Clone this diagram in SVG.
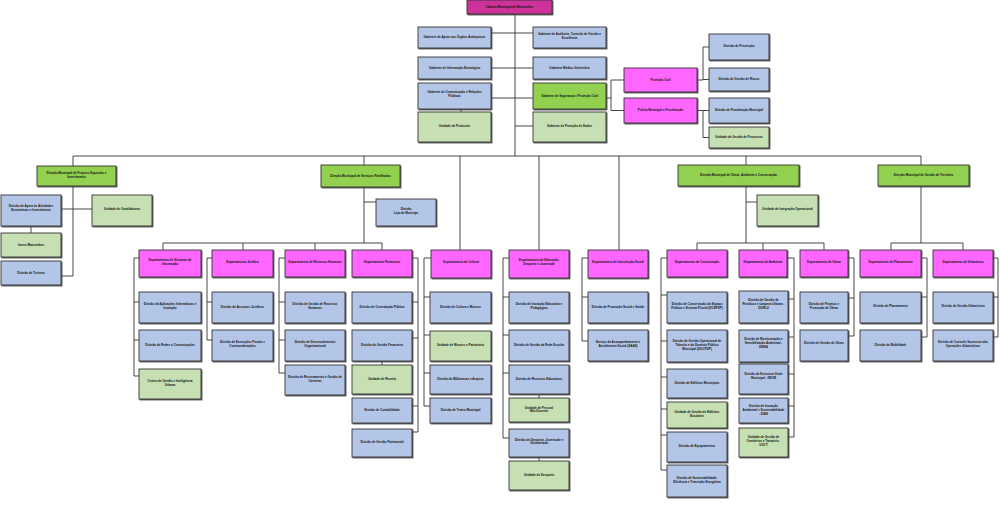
<svg xmlns="http://www.w3.org/2000/svg" width="1000" height="514" viewBox="0 0 1000 514">
<defs>
<filter id="sh" x="-10%" y="-10%" width="130%" height="140%"><feDropShadow dx="1" dy="1" stdDeviation="0.3" flood-color="#4a4a4a" flood-opacity="0.9"/></filter>
</defs>
<style>
rect{stroke:#333;stroke-width:0.9;filter:url(#sh)}
.b{fill:#b4c6e7}.g{fill:#92d050}.l{fill:#c6e0b4}.m{fill:#ff66ff}.t{fill:#cc3399}
text{font-family:"Liberation Sans",Arial,sans-serif;font-size:3px;font-weight:bold;fill:#111;text-anchor:middle;dominant-baseline:central}
#conn path{fill:none;stroke:#333;stroke-width:0.9}
</style>
<rect width="1000" height="514" style="fill:#fff;stroke:none;filter:none"/>
<g id="conn"><path d="M515 14V156M491 33H533M491 68H533M491 98H533M515 126H533M461 109V112
M606 98H611M611 80V110.5M611 80H624M611 110.5H624
M697 80H703M703 47V80M703 47H709M703 79.5H709
M697 110.5H709M703 110.5V137.5M703 137.5H709
M73 156H921
M73 156V166M73 186V276M61 276H73M61 209H92M31 226V233
M364 156V165M364 187V243M364 202H376
M163 243H382M163 243V250M243 243V250M315 243V250M382 243V250
M460 156V250M539 156V250M619 156V250
M746 156V165M746 186V243M746 202H757M697 243H824M697 243V250M763 243V250M824 243V250
M921 156V165M921 186V243M891 243H963M891 243V250M963 243V250
M139 258H134V376M134 302H139M134 340H139M134 376H139
M212 258H207V340M207 302H212M207 340H212
M285 258H279V373M279 302H285M279 340H285M279 373H285
M412 258H418V432M418 302H412M418 338H412M418 406H412M418 432H412M382 361V365
M431 258H424V406M424 297H430M424 335H430M424 373H430M424 406H430
M509 258H503V438M503 297H509M503 335H509M503 373H509M503 438H509M539 394V398M539 457V461
M588 258H582V341M582 297H588M582 341H588
M667 258H661V470M661 295H667M661 341H667M661 377H667M661 409H667M661 435H667M661 470H667
M787 258H794V437M794 299H788M794 337H788M794 374H788M794 406H788M794 437H788
M848 258H854V336M854 298H848M854 336H848
M921 258H927V337M927 297H921M927 337H921
M993 258H998V337M998 297H993M998 337H993"/></g>

<g id="camara"><rect class="t" x="467" y="0" width="85" height="14"/><text x="509.5" y="6.5">Câmara Municipal de Matosinhos</text></g>
<g id="gab-apoio"><rect class="b" x="418" y="27" width="73" height="21"/><text x="454.5" y="37">Gabinete de Apoio aos Órgãos Autárquicos</text></g>
<g id="gab-info"><rect class="b" x="418" y="57" width="73" height="22"/><text x="454.5" y="67.5">Gabinete de Informação Estratégica</text></g>
<g id="gab-com"><rect class="b" x="418" y="83" width="73" height="26"/><text x="454.5" y="94"><tspan x="454.5" dy="-1.8">Gabinete de Comunicação e Relações</tspan><tspan x="454.5" dy="3.6">Públicas</tspan></text></g>
<g id="un-protocolo"><rect class="l" x="418" y="112" width="73" height="30"/><text x="454.5" y="126">Unidade de Protocolo</text></g>
<g id="gab-auditoria"><rect class="b" x="533" y="27" width="73" height="21"/><text x="569.5" y="36"><tspan x="569.5" dy="-1.8">Gabinete de Auditoria, Controlo de Gestão e</tspan><tspan x="569.5" dy="3.6">Excelência</tspan></text></g>
<g id="gab-vet"><rect class="b" x="533" y="57" width="73" height="22"/><text x="569.5" y="67.5">Gabinete Médico Veterinário</text></g>
<g id="gab-seg"><rect class="g" x="533" y="83" width="73" height="26"/><text x="569.5" y="96">Gabinete de Segurança e Proteção Civil</text></g>
<g id="gab-dados"><rect class="l" x="533" y="112" width="73" height="30"/><text x="569.5" y="126">Gabinete de Proteção de Dados</text></g>
<g id="protecao-civil"><rect class="m" x="624" y="68" width="73" height="24"/><text x="660.5" y="79.5">Proteção Civil</text></g>
<g id="policia"><rect class="m" x="624" y="98" width="73" height="25"/><text x="660.5" y="110">Polícia Municipal e Fiscalização</text></g>
<g id="div-prevencao"><rect class="b" x="709" y="34" width="60" height="26"/><text x="739" y="46">Divisão de Prevenção</text></g>
<g id="div-riscos"><rect class="b" x="709" y="68" width="60" height="23"/><text x="739" y="79">Divisão de Gestão de Riscos</text></g>
<g id="div-fiscalizacao"><rect class="b" x="709" y="98" width="60" height="25"/><text x="739" y="110">Divisão de Fiscalização Municipal</text></g>
<g id="un-processos"><rect class="l" x="709" y="127" width="60" height="21"/><text x="739" y="137">Unidade de Gestão de Processos</text></g>

<g id="dm-projetos"><rect class="g" x="37" y="166" width="79" height="20"/><text x="76.5" y="175"><tspan x="76.5" dy="-1.8">Direção Municipal de Projetos Especiais e</tspan><tspan x="76.5" dy="3.6">Investimento</tspan></text></g>
<g id="dm-servicos"><rect class="g" x="321" y="165" width="79" height="22"/><text x="360.5" y="175.5">Direção Municipal de Serviços Partilhados</text></g>
<g id="dm-obras"><rect class="g" x="678" y="165" width="121" height="21"/><text x="738.5" y="175">Direção Municipal de Obras, Ambiente e Conservação</text></g>
<g id="dm-territorio"><rect class="g" x="878" y="165" width="91" height="21"/><text x="923.5" y="175">Direção Municipal de Gestão de Território</text></g>

<g id="div-apoio-ativ"><rect class="b" x="1" y="195" width="60" height="31"/><text x="31" y="208"><tspan x="31" dy="-1.8">Divisão de Apoio às Atividades</tspan><tspan x="31" dy="3.6">Económicas e Investimento</tspan></text></g>
<g id="un-candidaturas"><rect class="l" x="92" y="195" width="60" height="31"/><text x="122" y="209">Unidade de Candidaturas</text></g>
<g id="invest"><rect class="l" x="1" y="233" width="60" height="24"/><text x="31" y="244.5">Invest Matosinhos</text></g>
<g id="div-turismo"><rect class="b" x="1" y="261" width="60" height="24"/><text x="31" y="272.5">Divisão de Turismo</text></g>
<g id="div-loja"><rect class="b" x="376" y="199" width="60" height="27"/><text x="406" y="211"><tspan x="406" dy="-1.8">Divisão</tspan><tspan x="406" dy="3.6">Loja do Munícipe</tspan></text></g>
<g id="un-integracao"><rect class="l" x="757" y="195" width="61" height="31"/><text x="787.5" y="209">Unidade de Integração Operacional</text></g>

<g id="dep-si"><rect class="m" x="139" y="250" width="62" height="27"/><text x="170" y="262"><tspan x="170" dy="-1.8">Departamento de Sistemas de</tspan><tspan x="170" dy="3.6">Informação</tspan></text></g>
<g id="dep-jur"><rect class="m" x="212" y="250" width="61" height="27"/><text x="242.5" y="262">Departamento Jurídico</text></g>
<g id="dep-rh"><rect class="m" x="285" y="250" width="60" height="27"/><text x="315" y="262">Departamento de Recursos Humanos</text></g>
<g id="dep-fin"><rect class="m" x="352" y="250" width="60" height="27"/><text x="382" y="262">Departamento Financeiro</text></g>
<g id="dep-cult"><rect class="m" x="431" y="250" width="60" height="28"/><text x="461" y="262">Departamento de Cultura</text></g>
<g id="dep-edu"><rect class="m" x="509" y="250" width="60" height="28"/><text x="539" y="262"><tspan x="539" dy="-1.8">Departamento de Educação,</tspan><tspan x="539" dy="3.6">Desporto e Juventude</tspan></text></g>
<g id="dep-social"><rect class="m" x="588" y="250" width="60" height="28"/><text x="618" y="262">Departamento de Intervenção Social</text></g>
<g id="dep-cons"><rect class="m" x="667" y="250" width="60" height="27"/><text x="697" y="262">Departamento de Conservação</text></g>
<g id="dep-amb"><rect class="m" x="739" y="250" width="48" height="27"/><text x="763" y="262">Departamento de Ambiente</text></g>
<g id="dep-obras"><rect class="m" x="800" y="250" width="48" height="27"/><text x="824" y="262">Departamento de Obras</text></g>
<g id="dep-plan"><rect class="m" x="860" y="250" width="61" height="27"/><text x="890.5" y="262">Departamento de Planeamento</text></g>
<g id="dep-urb"><rect class="m" x="933" y="250" width="60" height="27"/><text x="963" y="262">Departamento de Urbanismo</text></g>

<g id="div-aplic"><rect class="b" x="139" y="292" width="62" height="31"/><text x="170" y="306"><tspan x="170" dy="-1.8">Divisão de Aplicações Informáticas e</tspan><tspan x="170" dy="3.6">Inovação</tspan></text></g>
<g id="div-redes"><rect class="b" x="139" y="330" width="62" height="31"/><text x="170" y="344.5">Divisão de Redes e Comunicações</text></g>
<g id="centro-gestao"><rect class="l" x="139" y="369" width="62" height="30"/><text x="170" y="383"><tspan x="170" dy="-1.8">Centro de Gestão e Inteligência</tspan><tspan x="170" dy="3.6">Urbana</tspan></text></g>
<g id="div-assuntos"><rect class="b" x="212" y="292" width="61" height="31"/><text x="242.5" y="306.5">Divisão de Assuntos Jurídicos</text></g>
<g id="div-execucoes"><rect class="b" x="212" y="330" width="61" height="31"/><text x="242.5" y="344"><tspan x="242.5" dy="-1.8">Divisão de Execuções Fiscais e</tspan><tspan x="242.5" dy="3.6">Contraordenações</tspan></text></g>
<g id="div-grh"><rect class="b" x="285" y="292" width="60" height="31"/><text x="315" y="306"><tspan x="315" dy="-1.8">Divisão de Gestão de Recursos</tspan><tspan x="315" dy="3.6">Humanos</tspan></text></g>
<g id="div-desorg"><rect class="b" x="285" y="330" width="60" height="31"/><text x="315" y="344"><tspan x="315" dy="-1.8">Divisão de Desenvolvimento</tspan><tspan x="315" dy="3.6">Organizacional</tspan></text></g>
<g id="div-recrut"><rect class="b" x="285" y="365" width="60" height="30"/><text x="315" y="379"><tspan x="315" dy="-1.8">Divisão de Recrutamento e Gestão de</tspan><tspan x="315" dy="3.6">Carreiras</tspan></text></g>
<g id="div-contrat"><rect class="b" x="352" y="292" width="60" height="31"/><text x="382" y="306.5">Divisão de Contratação Pública</text></g>
<g id="div-gfin"><rect class="b" x="352" y="330" width="60" height="31"/><text x="382" y="344.5">Divisão de Gestão Financeira</text></g>
<g id="un-receita"><rect class="l" x="352" y="365" width="60" height="29"/><text x="382" y="378.5">Unidade de Receita</text></g>
<g id="div-contab"><rect class="b" x="352" y="398" width="60" height="25"/><text x="382" y="410">Divisão de Contabilidade</text></g>
<g id="div-patrim"><rect class="b" x="352" y="429" width="60" height="28"/><text x="382" y="442">Divisão de Gestão Patrimonial</text></g>
<g id="div-cultmus"><rect class="b" x="430" y="292" width="61" height="31"/><text x="460.5" y="306.5">Divisão de Cultura e Museus</text></g>
<g id="un-museus"><rect class="l" x="430" y="331" width="61" height="30"/><text x="460.5" y="345">Unidade de Museus e Património</text></g>
<g id="div-bibl"><rect class="b" x="430" y="365" width="61" height="29"/><text x="460.5" y="378.5">Divisão de Bibliotecas e Arquivo</text></g>
<g id="div-teatro"><rect class="b" x="430" y="398" width="61" height="25"/><text x="460.5" y="410">Divisão de Teatro Municipal</text></g>
<g id="div-inov-edu"><rect class="b" x="509" y="292" width="60" height="31"/><text x="539" y="306"><tspan x="539" dy="-1.8">Divisão de Inovação Educativa e</tspan><tspan x="539" dy="3.6">Pedagógica</tspan></text></g>
<g id="div-rede"><rect class="b" x="509" y="330" width="60" height="31"/><text x="539" y="344.5">Divisão de Gestão da Rede Escolar</text></g>
<g id="div-receduc"><rect class="b" x="509" y="365" width="60" height="29"/><text x="539" y="378.5">Divisão de Recursos Educativos</text></g>
<g id="un-pessoal"><rect class="l" x="509" y="398" width="60" height="24"/><text x="539" y="409.5"><tspan x="539" dy="-1.8">Unidade de Pessoal</tspan><tspan x="539" dy="3.6">Não Docente</tspan></text></g>
<g id="div-desporto"><rect class="b" x="509" y="429" width="60" height="28"/><text x="539" y="441.5"><tspan x="539" dy="-1.8">Divisão de Desporto, Juventude e</tspan><tspan x="539" dy="3.6">Voluntariado</tspan></text></g>
<g id="un-desporto"><rect class="l" x="509" y="461" width="60" height="29"/><text x="539" y="474.5">Unidade de Desporto</text></g>
<g id="div-promocao"><rect class="b" x="588" y="292" width="60" height="31"/><text x="618" y="306.5">Divisão de Promoção Social e Saúde</text></g>
<g id="saas"><rect class="b" x="588" y="330" width="60" height="31"/><text x="618" y="344"><tspan x="618" dy="-1.8">Serviço de Acompanhamento e</tspan><tspan x="618" dy="3.6">Atendimento Social (SAAS)</tspan></text></g>
<g id="dcepsp"><rect class="b" x="667" y="292" width="60" height="31"/><text x="697" y="306"><tspan x="697" dy="-1.8">Divisão de Conservação do Espaço</tspan><tspan x="697" dy="3.6">Público e Sistema Pluvial (DCEPSP)</tspan></text></g>
<g id="dgotdp"><rect class="b" x="667" y="330" width="60" height="32"/><text x="697" y="345"><tspan x="697" dy="-3.6">Divisão de Gestão Operacional de</tspan><tspan x="697" dy="3.6">Trânsito e do Domínio Público</tspan><tspan x="697" dy="3.6">Municipal (DGOTDP)</tspan></text></g>
<g id="div-edif"><rect class="b" x="667" y="369" width="60" height="29"/><text x="697" y="382.5">Divisão de Edifícios Municipais</text></g>
<g id="un-escolares"><rect class="l" x="667" y="402" width="60" height="26"/><text x="697" y="414"><tspan x="697" dy="-1.8">Unidade de Gestão de Edifícios</tspan><tspan x="697" dy="3.6">Escolares</tspan></text></g>
<g id="div-equip"><rect class="b" x="667" y="432" width="60" height="30"/><text x="697" y="446">Divisão de Equipamentos</text></g>
<g id="div-sust"><rect class="b" x="667" y="465" width="60" height="32"/><text x="697" y="480"><tspan x="697" dy="-1.8">Divisão de Sustentabilidade,</tspan><tspan x="697" dy="3.6">Eficiência e Transição Energética</tspan></text></g>
<g id="dgrlu"><rect class="b" x="739" y="291" width="49" height="32"/><text x="763.5" y="304"><tspan x="763.5" dy="-3.6">Divisão de Gestão de</tspan><tspan x="763.5" dy="3.6">Resíduos e Limpeza Urbana -</tspan><tspan x="763.5" dy="3.6">DGRLU</tspan></text></g>
<g id="dmsa"><rect class="b" x="739" y="330" width="49" height="32"/><text x="763.5" y="343"><tspan x="763.5" dy="-3.6">Divisão de Monitorização e</tspan><tspan x="763.5" dy="3.6">Sensibilização Ambiental -</tspan><tspan x="763.5" dy="3.6">DMSA</tspan></text></g>
<g id="devm"><rect class="b" x="739" y="364" width="49" height="30"/><text x="763.5" y="376"><tspan x="763.5" dy="-1.8">Divisão de Estrutura Verde</tspan><tspan x="763.5" dy="3.6">Municipal - DEVM</tspan></text></g>
<g id="dias"><rect class="b" x="739" y="398" width="49" height="25"/><text x="763.5" y="410"><tspan x="763.5" dy="-3.6">Divisão de Inovação</tspan><tspan x="763.5" dy="3.6">Ambiental e Sustentabilidade</tspan><tspan x="763.5" dy="3.6">- DIAS</tspan></text></g>
<g id="ugct"><rect class="l" x="739" y="428" width="49" height="29"/><text x="763.5" y="441"><tspan x="763.5" dy="-3.6">Unidade de Gestão de</tspan><tspan x="763.5" dy="3.6">Cemitérios e Tanatório -</tspan><tspan x="763.5" dy="3.6">UGCT</tspan></text></g>
<g id="div-projetos"><rect class="b" x="800" y="292" width="48" height="31"/><text x="824" y="306"><tspan x="824" dy="-1.8">Divisão de Projetos e</tspan><tspan x="824" dy="3.6">Promoção de Obras</tspan></text></g>
<g id="div-gobras"><rect class="b" x="800" y="330" width="48" height="31"/><text x="824" y="343">Divisão de Gestão de Obras</text></g>
<g id="div-plan"><rect class="b" x="860" y="292" width="61" height="31"/><text x="890.5" y="306">Divisão de Planeamento</text></g>
<g id="div-mob"><rect class="b" x="860" y="330" width="61" height="31"/><text x="890.5" y="344.5">Divisão de Mobilidade</text></g>
<g id="div-gurb"><rect class="b" x="933" y="292" width="60" height="31"/><text x="963" y="306">Divisão de Gestão Urbanística</text></g>
<g id="div-controlo"><rect class="b" x="933" y="330" width="60" height="31"/><text x="963" y="344"><tspan x="963" dy="-1.8">Divisão de Controlo Sucessivo das</tspan><tspan x="963" dy="3.6">Operações Urbanísticas</tspan></text></g>
</svg>
